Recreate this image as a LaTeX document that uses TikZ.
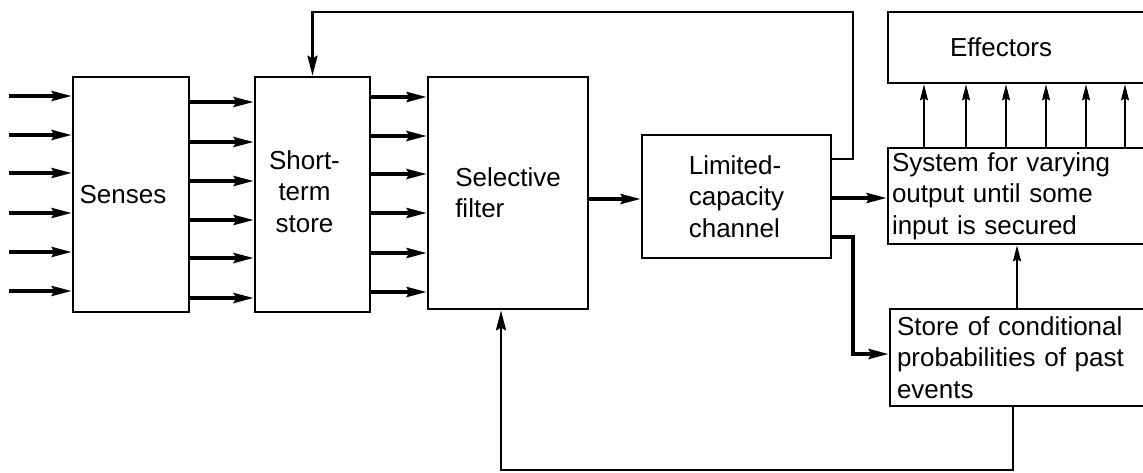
\documentclass[tikz,border=0pt]{standalone}
\usepackage{fontspec}
\setmainfont{Liberation Sans}
\usetikzlibrary{arrows.meta}
\begin{document}
\begin{tikzpicture}[x=0.75pt,y=-0.75pt,
  box/.style={draw, line width=2pt, inner sep=0pt, font=\fontsize{19.5}{23.5}\selectfont},
  arr/.style={line width=2.6pt, -{Stealth[length=15pt,width=7.5pt,inset=2pt]}},
  fbarr/.style={line width=2pt, -{Stealth[length=15pt,width=7.5pt,inset=2pt]}},
  thinarr/.style={line width=1.3pt, -{Stealth[length=12pt,width=6pt,inset=1.5pt]}}]
\clip (0,0) rectangle (1143,472);
% boxes
\node[box, minimum width=87pt, minimum height=176.25pt] (senses) at (131,194.5) {\raisebox{-5pt}{Senses}\hspace*{12pt}};
\node[box, minimum width=86.25pt, minimum height=176.25pt] (sts) at (312.5,194.5) {\raisebox{-6pt}{\begin{tabular}{@{}c@{}}Short-\\term\\store\end{tabular}}\hspace*{12pt}};
\node[box, minimum width=120pt, minimum height=174pt, align=left] (filter) at (508,193) {Selective\\filter};
\node[box, minimum width=141.75pt, minimum height=92.25pt, align=left] (lcc) at (736.5,196.5) {Limited-\\capacity\\channel};
\node[box, minimum height=53.25pt, inner xsep=46.5pt, text width=103.5pt, align=left] (eff) at (1019,47.5) {Effectors};
\node[box, minimum height=72pt, inner xsep=3pt, text width=190.5pt, align=left] (sys) at (1019,196) {System for varying\\output until some\\input is secured};
\node[box, minimum height=72.75pt, inner xsep=5.25pt, text width=184.5pt, align=left] (store) at (1020,357.5) {Store of conditional\\probabilities of past\\events};
% inputs
\foreach \y [count=\i] in {96,135,173,213,252,291} {
  \coordinate (in\i) at (9,\y);
  \draw[arr] (in\i) -- (senses.west |- in\i);
}
\foreach \y in {102,142,181,220,258,298}
  \draw[arr] (senses.east |- 0,\y) -- (sts.west |- 0,\y);
\foreach \y in {97,136,174,213,253,292}
  \draw[arr] (sts.east |- 0,\y) -- (filter.west |- 0,\y);
\draw[arr] (filter.east |- 0,199) -- (lcc.west |- 0,199);
\draw[arr] (lcc.east |- 0,198) -- (sys.west |- 0,198);
% feedback to short-term store
\draw[fbarr] (lcc.east |- 0,159) -- (853,159) -- (853,12) -- (sts.north |- 0,12) -- (sts.north);
% to store of conditional probabilities
\draw[arr] (lcc.east |- 0,237) -- (853,237) -- (853,354) -- (store.west |- 0,354);
% feedback to selective filter
\draw[fbarr] (store.south -| 1013,0) -- (1013,470) -- (501,470) -- (filter.south -| 501,0);
% store to system
\draw[thinarr] (store.north -| 1017,0) -- (sys.south -| 1017,0);
% system to effectors
\foreach \x in {924,966,1006,1046,1086,1125}
  \draw[thinarr] (sys.north -| \x,0) -- (eff.south -| \x,0);
\end{tikzpicture}
\end{document}
